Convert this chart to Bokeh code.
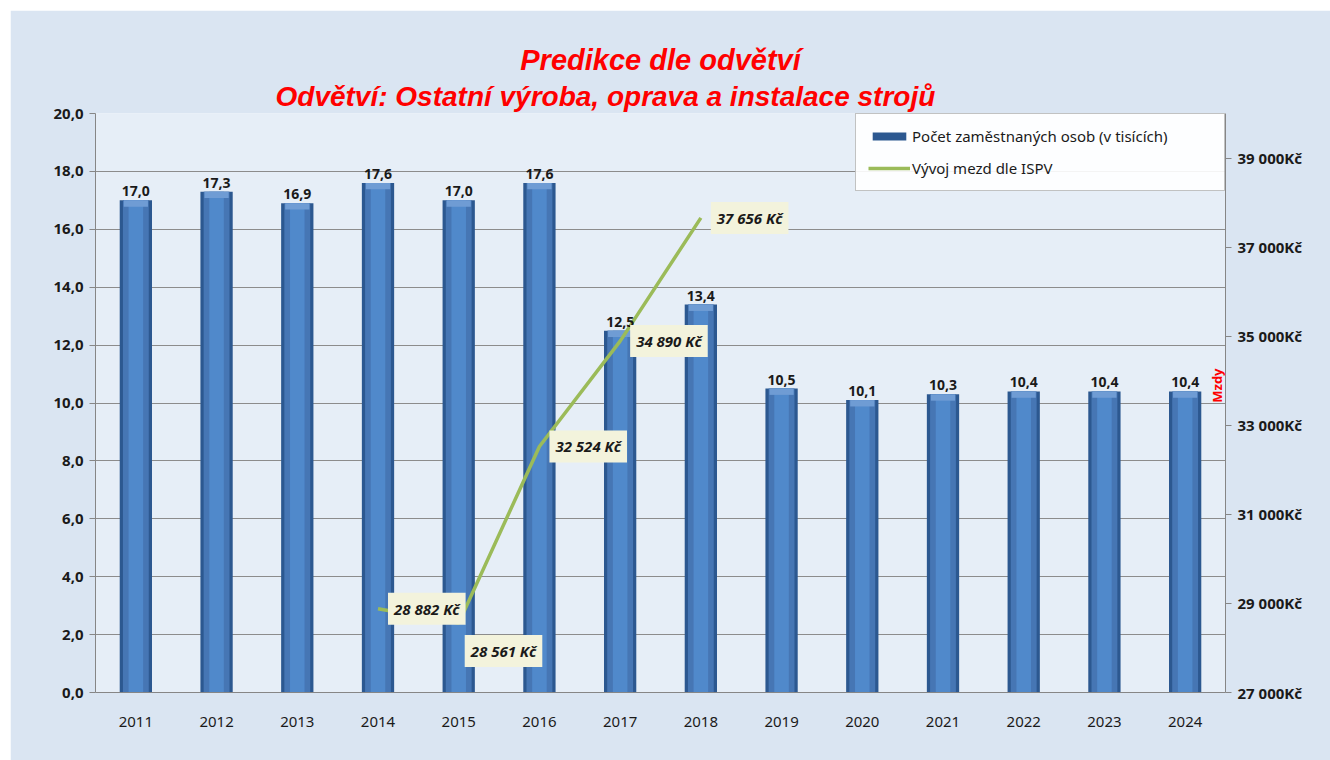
import math
from bokeh.plotting import figure
from bokeh.models import (Range1d, LinearAxis, FixedTicker, Label, LabelSet, Title,
                          ColumnDataSource, FactorRange)
from bokeh.core.properties import value
from bokeh.embed import file_html
from bokeh.resources import INLINE

# ---- data ----
years = ["2011", "2012", "2013", "2014", "2015", "2016", "2017",
         "2018", "2019", "2020", "2021", "2022", "2023", "2024"]
employed = [17.0, 17.3, 16.9, 17.6, 17.0, 17.6, 12.5, 13.4, 10.5, 10.1, 10.3, 10.4, 10.4, 10.4]
wage_years = ["2014", "2015", "2016", "2017", "2018"]
wages = [28882, 28561, 32524, 34890, 37656]
left_ticks = [0, 2, 4, 6, 8, 10, 12, 14, 16, 18, 20]
right_ticks = [27000, 29000, 31000, 33000, 35000, 37000, 39000]
title1 = "Predikce dle odvětví"
title2 = "Odvětví: Ostatní výroba, oprava a instalace strojů"
legend_bar = "Počet zaměstnaných osob (v tisících)"
legend_line = "Vývoj mezd dle ISPV"
right_axis_title = "Mzdy"

FONT = "Noto Sans"
TFONT = "Liberation Sans"

p = figure(width=1320, height=750, x_range=FactorRange(*years), y_range=Range1d(0, 20),
           output_backend="svg", toolbar_location=None, title=None,
           min_border_left=85, min_border_right=105, min_border_top=103, min_border_bottom=68)
p.margin = (10, 0, 0, 10)
p.extra_y_ranges = {"wage": Range1d(27000, 40000)}

p.border_fill_color = "#dae5f2"
p.background_fill_color = "#e6eef7"
p.outline_line_color = None

# bars (cylinder-ish look)
src = ColumnDataSource(dict(x=years, top=employed,
                            lbl=[f"{v:.1f}".replace(".", ",") for v in employed],
                            cap=[v - 0.22 for v in employed]))
p.vbar(x="x", top="top", width=0.40, source=src, fill_color="#2c5890",
       line_color=None, legend_label=legend_bar)
p.vbar(x="x", top="top", width=0.32, source=src, fill_color="#4676b4", line_color=None)
p.vbar(x="x", top="top", width=0.18, source=src, fill_color="#5089cb", line_color=None)
p.vbar(x="x", top="top", bottom="cap", width=0.30, source=src, fill_color="#6f9cd4",
       line_color=None)

# line
wsrc = ColumnDataSource(dict(x=wage_years, y=wages,
                             lbl=[f"{w:,}".replace(",", " ") + " Kč" for w in wages]))
p.line(x="x", y="y", source=wsrc, y_range_name="wage", line_color="#9bbb59",
       line_width=3.5, legend_label=legend_line)

# bar labels
p.add_layout(LabelSet(x="x", y="top", text="lbl", source=src, y_offset=4,
                      text_align="center", text_baseline="bottom",
                      text_font=value(FONT), text_font_size="14px",
                      text_font_style="bold", text_color="#1a1a1a"))

# wage labels (x as synthetic categorical coordinate: index + 0.5)
offsets = {"2015": (6, -28)}
for xv, yv, t in zip(wage_years, wages, wsrc.data["lbl"]):
    dx, dy = offsets.get(xv, (10, 0))
    p.add_layout(Label(x=years.index(xv) + 0.5, y=yv, y_range_name="wage", text=t,
                       x_offset=dx, y_offset=dy,
                       text_align="left", text_baseline="middle",
                       text_font=FONT, text_font_size="15px",
                       text_font_style="bold italic", text_color="#1a1a1a",
                       background_fill_color="#f3f3dc", padding=6))

# axes
p.yaxis.ticker = FixedTicker(ticks=left_ticks)
p.yaxis.major_label_overrides = {t: f"{t:.1f}".replace(".", ",") for t in left_ticks}
right = LinearAxis(y_range_name="wage", ticker=FixedTicker(ticks=right_ticks))
right.major_label_overrides = {t: f"{t:,}".replace(",", " ") + "Kč" for t in right_ticks}
p.add_layout(right, "right")

for ax in [p.yaxis[0], right]:
    ax.axis_line_color = "#868686"
    ax.major_tick_line_color = "#868686"
    ax.major_tick_out = 6
    ax.major_tick_in = 0
    ax.minor_tick_line_color = None
    ax.major_label_text_font = FONT
    ax.major_label_text_font_size = "15px"
    ax.major_label_text_font_style = "bold"
    ax.major_label_text_color = "#1a1a1a"
    ax.major_label_standoff = 6

p.xaxis.axis_line_color = "#868686"
p.xaxis.major_tick_line_color = None
p.xaxis.major_label_text_font = FONT
p.xaxis.major_label_text_font_size = "15px"
p.xaxis.major_label_text_color = "#1a1a1a"
p.xaxis.major_label_standoff = 18

p.xgrid.grid_line_color = None
p.ygrid.grid_line_color = "#8c8c8c"
p.ygrid.ticker = FixedTicker(ticks=left_ticks)

# titles (second line added first: it sits nearest the plot)
p.add_layout(Title(text=title2, align="left", offset=180, standoff=4, text_font=TFONT,
                   text_font_size="28px", text_font_style="bold italic",
                   text_color="#ff0000"), "above")
p.add_layout(Title(text=title1, align="center", standoff=2, text_font=TFONT,
                   text_font_size="29px", text_font_style="bold italic",
                   text_color="#ff0000"), "above")

p.add_layout(Label(x=13.9, y=10.6, text=right_axis_title, text_align="center",
                   text_baseline="middle", angle=math.pi / 2, text_font=FONT,
                   text_font_size="13px", text_font_style="bold", text_color="#ff0000"))

# legend
lg = p.legend[0]
lg.location = "top_right"
lg.margin = 0
lg.padding = 12
lg.spacing = 12
lg.glyph_width = 42
lg.glyph_height = 10
lg.label_standoff = 2
lg.label_width = 300
lg.label_text_font = FONT
lg.label_text_font_size = "15px"
lg.label_text_color = "#1a1a1a"
lg.border_line_color = "#868686"
lg.background_fill_color = "#ffffff"
lg.background_fill_alpha = 0.9

open("out.html", "w").write(file_html(p, INLINE))
